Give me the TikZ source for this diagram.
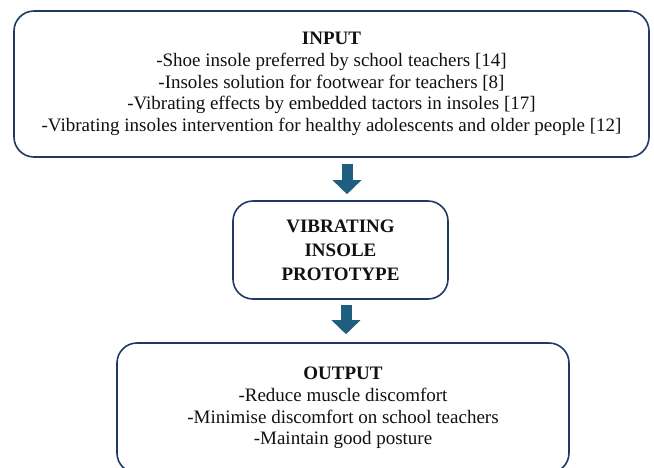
\documentclass[tikz,border=0pt]{standalone}
\usepackage{fontspec}
\setmainfont{Liberation Serif}
\usepackage{tikz}
\usepackage{xcolor}
\usetikzlibrary{arrows.meta,positioning,calc}
\definecolor{frame}{HTML}{1F3864}
\definecolor{flowblue}{HTML}{1F5E7E}
\definecolor{ink}{HTML}{111111}
\tikzset{
  block/.style={draw=frame, fill=white, rounded corners=20pt, line width=1.6pt,
                align=center, inner sep=0pt, text=ink},
  bodytext/.style={font=\fontsize{19}{21.7}\selectfont},
  flow/.style={draw=flowblue, line width=11pt,
               -{Triangle[width=28pt,length=14pt,fill=flowblue]}}
}

\begin{document}
\begin{tikzpicture}[x=1pt,y=-1pt]
  \useasboundingbox (0,0) rectangle (654,467);
  \clip (0,0) rectangle (654,467);
  % boxes
  \node[block,bodytext,minimum width=635pt,minimum height=146pt] (input) at (331.5,84)
    {\textbf{INPUT}\\
     -Shoe insole preferred by school teachers [14]\\
     -Insoles solution for footwear for teachers [8]\\
     -Vibrating effects by embedded tactors in insoles [17]\\
     -Vibrating insoles intervention for healthy adolescents and older people [12]};
  \node[block,font=\fontsize{19}{23.8}\selectfont\bfseries,minimum width=215pt,minimum height=98pt] (proto) at (340.5,250)
    {VIBRATING\\ INSOLE\\ PROTOTYPE};
  \node[block,bodytext,minimum width=452pt,minimum height=130pt] (output) at (343,408)
    {\textbf{OUTPUT}\\
     -Reduce muscle discomfort\\
     -Minimise discomfort on school teachers\\
     -Maintain good posture};
  % arrows between the boxes
  \draw[flow] ([xshift=6.5pt,yshift=-6pt]proto.north |- input.south) -- ([xshift=6.5pt,yshift=6pt]proto.north);
  \draw[flow] ([xshift=5.5pt,yshift=-5pt]proto.south) -- ([xshift=5.5pt,yshift=8pt]proto.south |- output.north);
\end{tikzpicture}
\end{document}
